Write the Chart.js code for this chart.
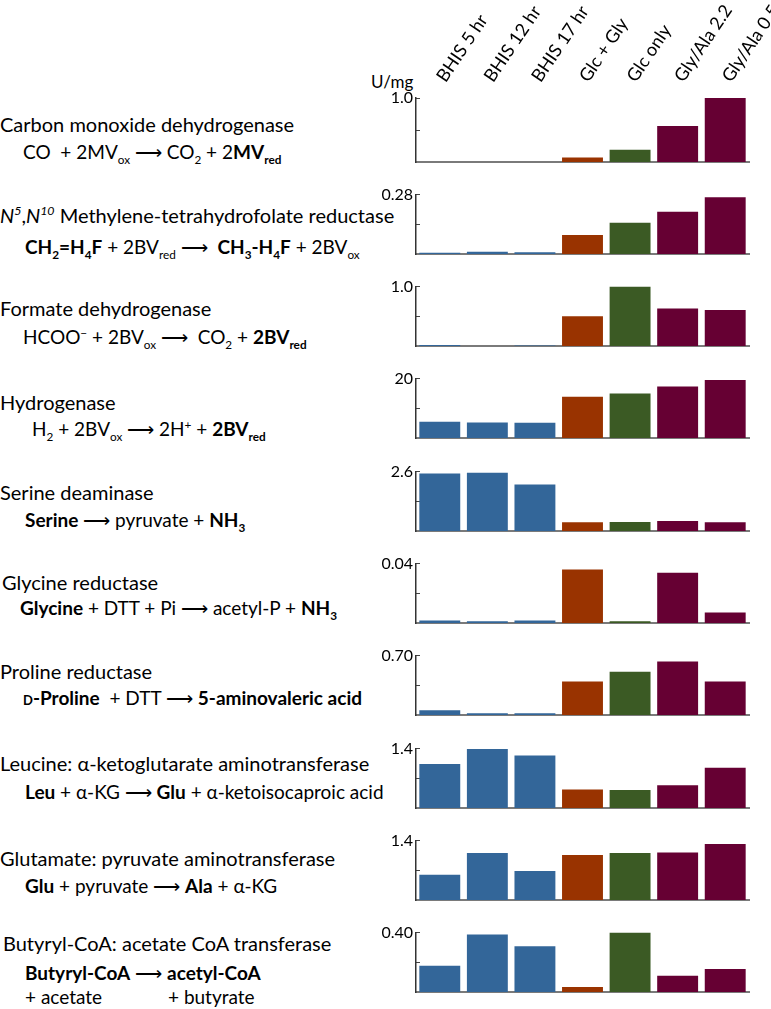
<!DOCTYPE html>
<html>
<head>
<meta charset="utf-8">
<script src="https://cdn.jsdelivr.net/npm/chart.js@4.4.1/dist/chart.umd.min.js"></script>
<style>
body { margin: 0; width: 771px; height: 1009px; overflow: hidden; background: #fff; font-family: Lato, sans-serif; color: #000; position: relative; }
.t { position: absolute; left: 0; font-size: 20px; line-height: 24px; white-space: nowrap; }
.r { font-size: 19px; }
.sc { font-variant: small-caps; }
sub, sup { font-size: 0.62em; line-height: 0; }
canvas { position: absolute; }
#unit { position: absolute; left: 371px; top: 72px; font-size: 17px; line-height: 20px; }
</style>
</head>
<body>
<div class="t" style="top:112px">Carbon monoxide dehydrogenase</div>
<div class="t r" style="top:140px;left:23px">CO &nbsp;+ 2MV<sub>ox</sub> ⟶ CO<sub>2</sub> + 2<b>MV<sub>red</sub></b></div>

<div class="t" style="top:203px"><i>N</i><sup><i>5</i></sup>,<i>N</i><sup><i>10</i></sup> Methylene-tetrahydrofolate reductase</div>
<div class="t r" style="top:235px;left:25px"><b>CH<sub>2</sub>=H<sub>4</sub>F</b> + 2BV<sub>red</sub> ⟶ &nbsp;<b>CH<sub>3</sub>-H<sub>4</sub>F</b> + 2BV<sub>ox</sub></div>

<div class="t" style="top:296px">Formate dehydrogenase</div>
<div class="t r" style="top:325px;left:23px">HCOO<sup>−</sup> + 2BV<sub>ox</sub> ⟶ &nbsp;CO<sub>2</sub> + <b>2BV<sub>red</sub></b></div>

<div class="t" style="top:390px">Hydrogenase</div>
<div class="t r" style="top:417px;left:32px">H<sub>2</sub> + 2BV<sub>ox</sub> ⟶ 2H<sup>+</sup> + <b>2BV<sub>red</sub></b></div>

<div class="t" style="top:480px">Serine deaminase</div>
<div class="t r" style="top:508px;left:25px"><b>Serine</b> ⟶ pyruvate + <b>NH<sub>3</sub></b></div>

<div class="t" style="top:570px;left:2px">Glycine reductase</div>
<div class="t r" style="top:596px;left:20px"><b>Glycine</b> + DTT + Pi ⟶ acetyl-P + <b>NH<sub>3</sub></b></div>

<div class="t" style="top:659px">Proline reductase</div>
<div class="t r" style="top:686px;left:23px"><b><span class="sc">d</span>-Proline</b> &nbsp;+ DTT ⟶ <b>5-aminovaleric acid</b></div>

<div class="t" style="top:751px">Leucine: α-ketoglutarate aminotransferase</div>
<div class="t r" style="top:780px;left:25px"><b>Leu</b> + α-KG ⟶ <b>Glu</b> + α-ketoisocaproic acid</div>

<div class="t" style="top:846px">Glutamate: pyruvate aminotransferase</div>
<div class="t r" style="top:874px;left:25px"><b>Glu</b> + pyruvate ⟶ <b>Ala</b> + α-KG</div>

<div class="t" style="top:931px;left:3px">Butyryl-CoA: acetate CoA transferase</div>
<div class="t r" style="top:961px;left:25px"><b>Butyryl-CoA</b> ⟶ <b>acetyl-CoA</b></div>
<div class="t r" style="top:985px;left:25px">+ acetate</div>
<div class="t r" style="top:985px;left:168px">+ butyrate</div>

<div id="unit">U/mg</div>

<script>
const conditions = ['BHIS 5 hr', 'BHIS 12 hr', 'BHIS 17 hr', 'Glc + Gly', 'Glc only', 'Gly/Ala 2.2', 'Gly/Ala 0.5'];
const barColors = ['#336699', '#336699', '#336699', '#993300', '#3b5a24', '#660033', '#660033'];

// specific activities, U/mg, one value per condition
const coDehydrogenase = [0, 0, 0, 0.078, 0.196, 0.565, 1.0];
const mthfReductase = [0.008, 0.012, 0.0096, 0.091, 0.148, 0.20, 0.268];
const formateDehydrogenase = [0.025, 0.008, 0.013, 0.506, 1.0, 0.634, 0.609];
const hydrogenase = [5.56, 5.3, 5.25, 13.9, 15.0, 17.35, 19.5];
const serineDeaminase = [2.52, 2.555, 2.04, 0.40, 0.41, 0.45, 0.40];
const glycineReductase = [0.0019, 0.0014, 0.0019, 0.0361, 0.0014, 0.0338, 0.0073];
const prolineReductase = [0.059, 0.026, 0.026, 0.397, 0.512, 0.632, 0.397];
const leuAminotransferase = [1.04, 1.39, 1.24, 0.44, 0.43, 0.54, 0.95];
const gluAminotransferase = [0.60, 1.11, 0.69, 1.065, 1.11, 1.12, 1.32];
const coaTransferase = [0.179, 0.388, 0.308, 0.036, 0.40, 0.112, 0.157];

const axisMax = [1.0, 0.28, 1.0, 20, 2.6, 0.04, 0.70, 1.4, 1.4, 0.40];
const topTickLabels = ['1.0', '0.28', '1.0', '20', '2.6', '0.04', '0.70', '1.4', '1.4', '0.40'];

const panels = [coDehydrogenase, mthfReductase, formateDehydrogenase, hydrogenase, serineDeaminase,
    glycineReductase, prolineReductase, leuAminotransferase, gluAminotransferase, coaTransferase];

const panelTops = [98, 190, 282, 374, 467, 559, 651, 744, 836, 928];
const panelHeight = 78;
const canvasLeft = 370;
const axisX = 416;
const plotRight = 749;

panels.forEach(function (values, i) {
    const first = i === 0;
    const canvas = document.createElement('canvas');
    const top = first ? 0 : panelTops[i] - 12;
    const width = first ? 410 : 385;
    const height = panelTops[i] + panelHeight + 3 - top;
    canvas.width = width;
    canvas.height = height;
    canvas.style.left = canvasLeft + 'px';
    canvas.style.top = top + 'px';
    document.body.appendChild(canvas);

    const scales = {
        x: {
            type: 'category',
            offset: true,
            grid: { display: false, drawTicks: false },
            ticks: { display: false },
            border: { display: true, color: '#7a7a7a', width: 2 }
        },
        y: {
            type: 'linear',
            min: 0,
            max: axisMax[i],
            afterFit: function (scale) { scale.width = axisX - canvasLeft; },
            ticks: {
                count: 5,
                padding: 7,
                color: '#000',
                font: { family: 'Lato', size: 16 },
                callback: function (value, index, ticks) {
                    return index === ticks.length - 1 ? topTickLabels[i] : '';
                }
            },
            grid: { drawOnChartArea: false, drawTicks: true, tickLength: -4, color: '#444', lineWidth: 1 },
            border: { display: true, color: '#333', width: 1.5 }
        }
    };
    if (first) {
        scales.x2 = {
            type: 'category',
            labels: conditions,
            position: 'top',
            offset: true,
            grid: { display: false, drawTicks: false },
            border: { display: false },
            afterFit: function (scale) {
                scale.height = panelTops[0];
                scale.paddingLeft = 0;
                scale.paddingRight = 0;
            },
            ticks: {
                autoSkip: false,
                minRotation: 56,
                maxRotation: 56,
                padding: 12,
                labelOffset: 19,
                color: '#000',
                font: { family: 'Lato', size: 18 }
            }
        };
    }

    new Chart(canvas, {
        type: 'bar',
        data: {
            labels: conditions,
            datasets: [{
                data: values,
                backgroundColor: barColors,
                borderWidth: 0,
                categoryPercentage: 1,
                barPercentage: 0.86
            }]
        },
        options: {
            responsive: false,
            animation: false,
            events: [],
            layout: {
                padding: {
                    top: first ? 0 : 12,
                    right: width - (plotRight - canvasLeft),
                    bottom: 3,
                    left: 0
                }
            },
            scales: scales,
            plugins: {
                legend: { display: false },
                tooltip: { enabled: false }
            }
        }
    });
});
</script>
</body>
</html>
